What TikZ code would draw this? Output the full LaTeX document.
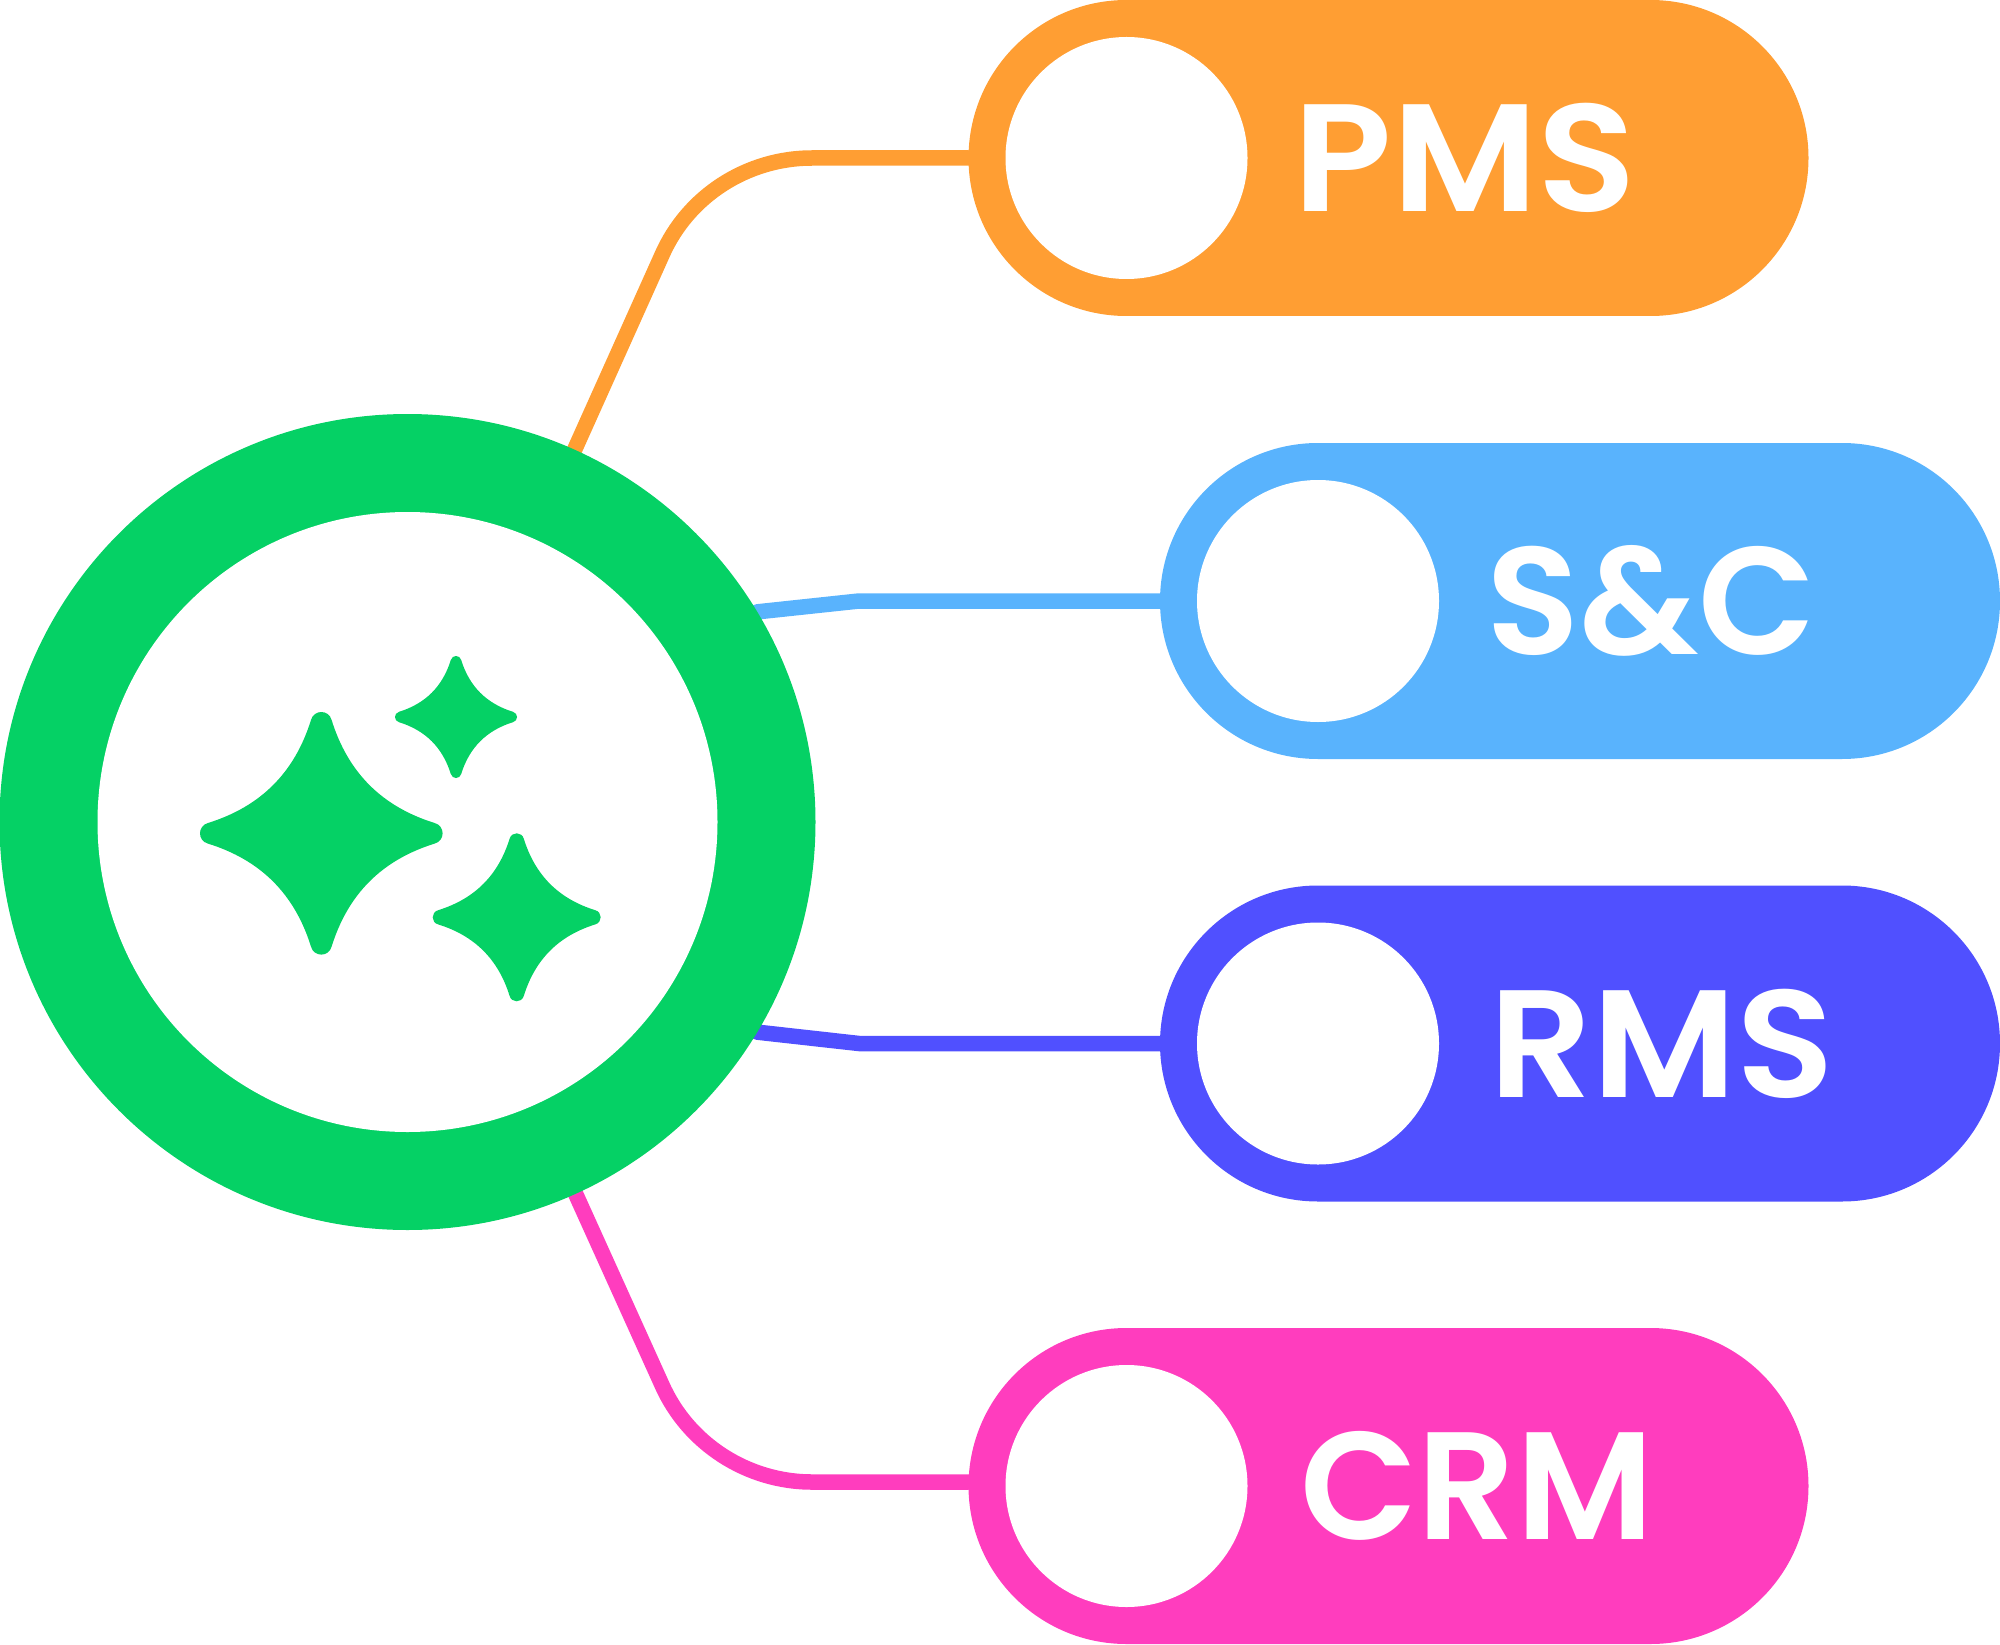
\documentclass[tikz,border=0pt]{standalone}
\usepackage{fontspec}
\setmainfont{Poppins}[BoldFont={Poppins SemiBold}]
\usetikzlibrary{backgrounds,shapes.misc}
\definecolor{hubgreen}{HTML}{05D165}
\definecolor{pmsorange}{HTML}{FF9E33}
\definecolor{scblue}{HTML}{59B3FD}
\definecolor{rmsindigo}{HTML}{5050FF}
\definecolor{crmpink}{HTML}{FF3DBE}
\tikzset{
    pillbox/.style={rounded rectangle,rounded rectangle arc length=180,minimum width=840,minimum height=316,inner sep=0,outer sep=0},
    holedot/.style={circle,fill=white,minimum size=242,inner sep=0,outer sep=0},
    pilltext/.style={text=white,inner sep=0,text height=107pt,text depth=0pt,font=\fontsize{153}{153}\selectfont\bfseries},
    connector/.style={line width=15.5pt,line cap=round},
}
\newcommand{\sparklepath}{(-.085,-.934) .. controls (-.062,-1.022) and (.062,-1.022) .. (.085,-.934)
    .. controls (.22,-.50) and (.50,-.22) .. (.934,-.085)
    .. controls (1.022,-.062) and (1.022,.062) .. (.934,.085)
    .. controls (.50,.22) and (.22,.50) .. (.085,.934)
    .. controls (.062,1.022) and (-.062,1.022) .. (-.085,.934)
    .. controls (-.22,.50) and (-.50,.22) .. (-.934,.085)
    .. controls (-1.022,.062) and (-1.022,-.062) .. (-.934,-.085)
    .. controls (-.50,-.22) and (-.22,-.50) .. (-.085,-.934) -- cycle}
\begin{document}
\begin{tikzpicture}[x=1pt,y=-1pt]
            \useasboundingbox (0,0) rectangle (2000,1645);
            \node (hub) at (407.5,822)[circle,fill=hubgreen,minimum size=816,inner sep=0,outer sep=0]{};
            \node (hubhole) at (407.5,822)[circle,fill=white,minimum size=620,inner sep=0,outer sep=0]{};
            \foreach \x/\y/\r in {321.3/833.3/121.3,456/717/61,516.7/917.3/84}{
                \fill[hubgreen,shift={(\x,\y)},scale=\r] \sparklepath;
            }
            \foreach \i/\lab/\col/\x/\y/\d/\t/\w in {pms/PMS/pmsorange/1388.5/158/1126.5/1465/1.06,sc/S\&C/scblue/1580/601/1318/1651/1,rms/RMS/rmsindigo/1580/1043.5/1318/1662/1.05,crm/CRM/crmpink/1388.5/1486/1126.5/1477/1}{
                \node (\i) at (\x,\y)[pillbox,fill=\col]{};
                \node (\i dot) at (\d,\y)[holedot]{};
                \node (\i text) at (\t,\y)[pilltext]{\scalebox{\w}[1]{\lab}};
            }
            \coordinate (pmsarca) at (662,255);
            \coordinate (pmsarcb) at (812,158);
            \coordinate (scbend) at (859,601);
            \coordinate (rmsbend) at (859,1043.5);
            \coordinate (crmarca) at (662,1385);
            \coordinate (crmarcb) at (812,1482);
            \begin{scope}[on background layer]
                \draw[connector,pmsorange] (hub) -- (pmsarca) .. controls (688,196) and (747,158) .. (pmsarcb) -- (pms.west);
                \draw[connector,scblue] (hub.31.7) -- (scbend) -- (sc.west);
                \draw[connector,rmsindigo] (hub.-31.2) -- (rmsbend) -- (rms.west);
                \draw[connector,crmpink] (hub) -- (crmarca) .. controls (688,1443.5) and (747,1482) .. (crmarcb) -- (crmarcb -| crm.west);
            \end{scope}
        \end{tikzpicture}
\end{document}
